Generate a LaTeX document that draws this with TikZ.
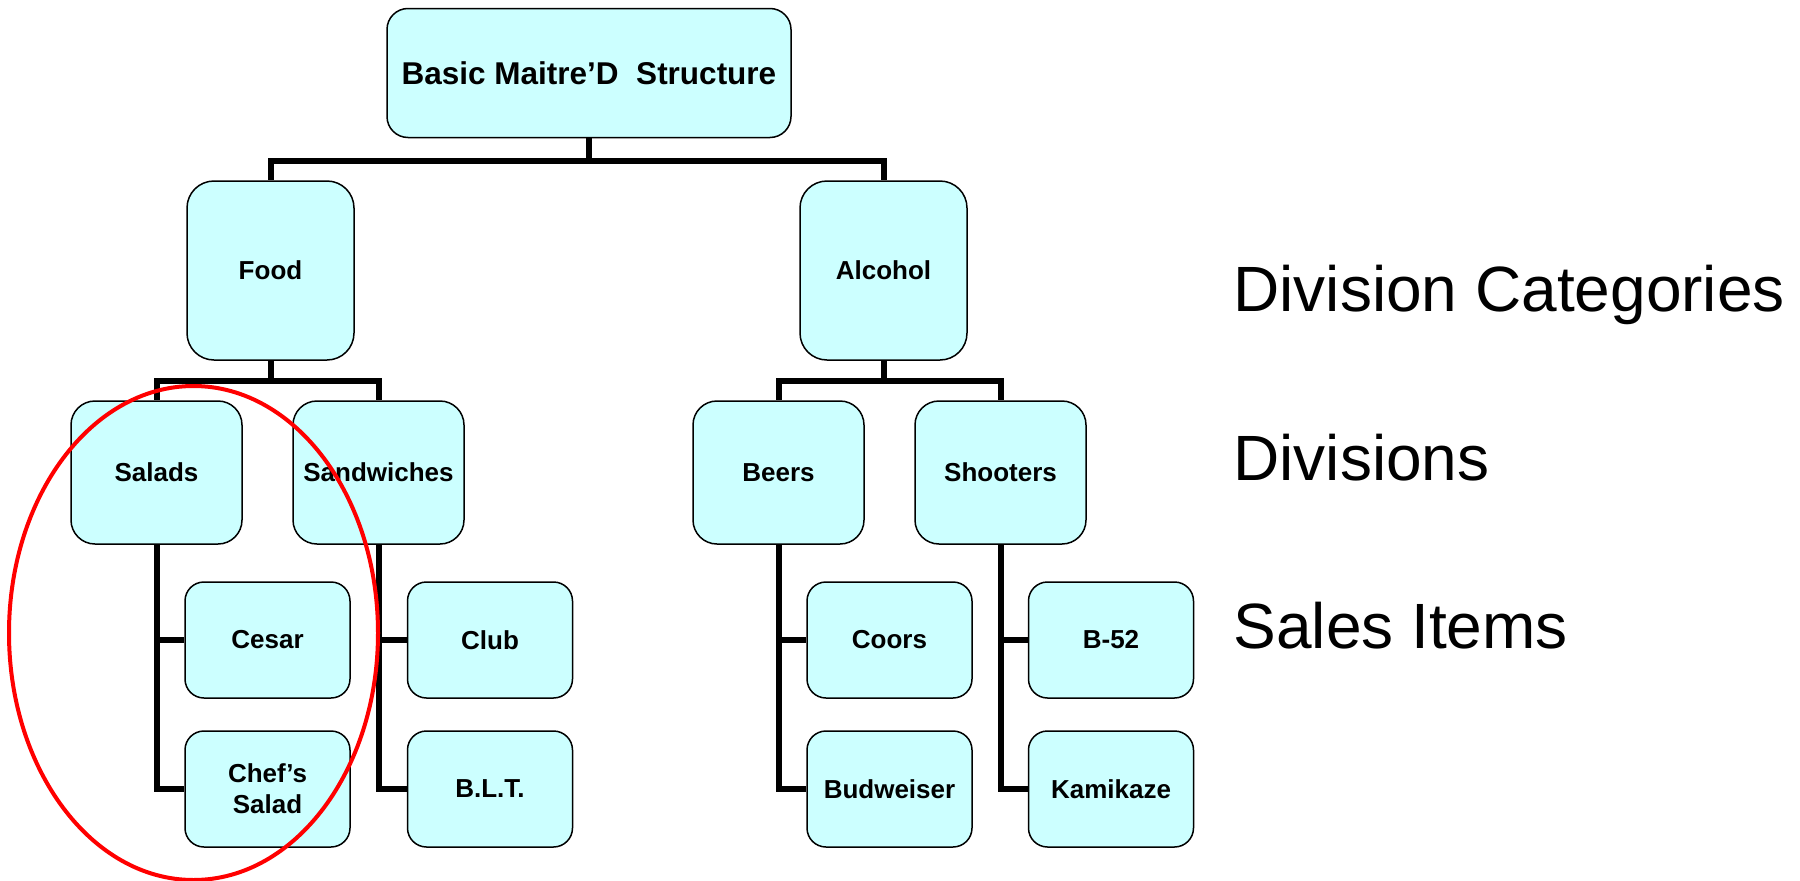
\documentclass[tikz,border=0pt]{standalone}
\usepackage{fontspec}
\setmainfont{Liberation Sans}
\definecolor{boxfill}{HTML}{CCFFFF}

\begin{document}
\begin{tikzpicture}[x=1pt,y=-1pt]

      \useasboundingbox (0,0) rectangle (1800,881);

      \begin{scope}[every node/.style={draw, fill=boxfill, line width=1.5pt, inner sep=0pt, align=center,
          font=\bfseries\fontsize{26}{31}\selectfont}]
        \node[minimum width=404, minimum height=129, rounded corners=21pt,
              font=\bfseries\fontsize{31.5}{36}\selectfont] (1) at (589,73) {Basic Maitre’D~~Structure};

        \begin{scope}[every node/.append style={minimum width=167, minimum height=179, rounded corners=27pt}]
          \node (2) at (270.5,270.5) {Food};
          \node (3) at (883.5,270.5) {Alcohol};
        \end{scope}

        \begin{scope}[every node/.append style={minimum width=171, minimum height=143, rounded corners=24pt}]
          \node (4) at (156.5,472.5)  {Salads};
          \node (5) at (378.5,472.5)  {Sandwiches};
          \node (6) at (778.5,472.5)  {Beers};
          \node (7) at (1000.5,472.5) {Shooters};
        \end{scope}

        \begin{scope}[every node/.append style={minimum width=165, minimum height=116, rounded corners=19pt}]
          \node (8)  at (267.5,640) {Cesar};
          \node (9)  at (267.5,789) {Chef’s\\Salad};
          \node (10) at (490,640)   {Club};
          \node (11) at (490,789)   {B.L.T.};
          \node (12) at (889.5,640) {Coors};
          \node (13) at (889.5,789) {Budweiser};
          \node (14) at (1111,640)  {B-52};
          \node (15) at (1111,789)  {Kamikaze};
        \end{scope}
      \end{scope}

      \begin{scope}[line width=6pt, line join=miter]
        \draw (1.south) -- ++(0,23) -| (2.north);
        \draw (1.south) -- ++(0,23) -| (3.north);
        \draw (2.south) -- ++(0,20) -| (4.north);
        \draw (2.south) -- ++(0,20) -| (5.north);
        \draw (3.south) -- ++(0,20) -| (6.north);
        \draw (3.south) -- ++(0,20) -| (7.north);
        \draw (4.south) |- (8.west);
        \draw (4.south) |- (9.west);
        \draw (5.south) |- (10.west);
        \draw (5.south) |- (11.west);
        \draw (6.south) |- (12.west);
        \draw (6.south) |- (13.west);
        \draw (7.south) |- (14.west);
        \draw (7.south) |- (15.west);
      \end{scope}

      \begin{scope}[every node/.style={anchor=base west, font=\fontsize{64}{70}\selectfont}]
        \node (16) at (1230,311) {Division Categories};
        \node (17) at (1230,480) {Divisions};
        \node (18) at (1230,648) {Sales Items};
      \end{scope}

      \draw[red, line width=4pt] (193.5,633) ellipse [x radius=184.5, y radius=247];

    \end{tikzpicture}
\end{document}
